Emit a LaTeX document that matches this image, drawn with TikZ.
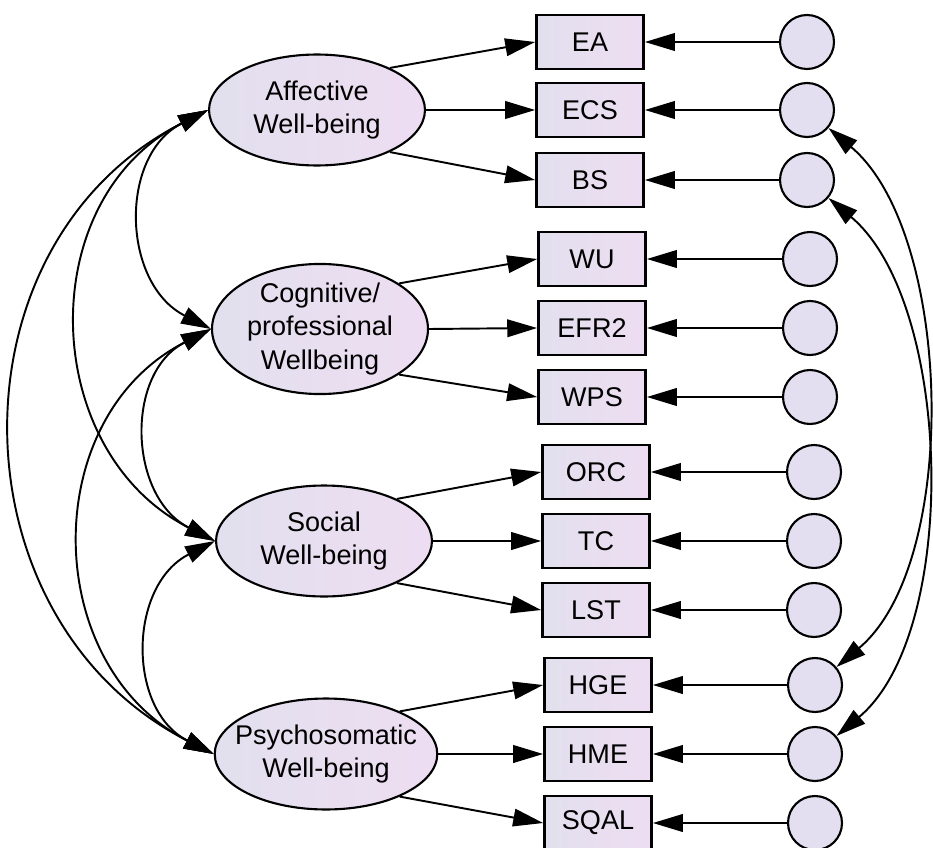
\documentclass[tikz,border=0pt]{standalone}
\usepackage{fontspec}
\setmainfont{Liberation Sans}
\usetikzlibrary{positioning,calc,arrows.meta,shapes.geometric}

\definecolor{fillL}{RGB}{226,224,238}
\definecolor{fillR}{RGB}{238,221,242}
\definecolor{errfill}{RGB}{227,223,240}

\begin{document}
\begin{tikzpicture}[x=0.02cm,y=-0.02cm,
	font=\fontsize{15.4}{19}\selectfont,
	latent/.style={ellipse,draw,line width=1.2pt,left color=fillL,right color=fillR,minimum width=4.32cm,minimum height=2.22cm,inner sep=0pt,align=center},
	obs/.style={rectangle,draw,line width=1.6pt,left color=fillL,right color=fillR,minimum width=2.14cm,minimum height=1.08cm,inner sep=0pt},
	err/.style={circle,draw,line width=1.2pt,fill=errfill,minimum size=1.08cm,inner sep=0pt},
	load/.style={line width=1.1pt,-{Triangle[length=17pt,width=10pt]}},
	cov/.style={line width=1.1pt,{Triangle[length=17pt,width=10pt]}-{Triangle[length=17pt,width=10pt]}},
	arc/.style={out=207,in=153,looseness=1.17}]
		\useasboundingbox (0,0) rectangle (933,848);
		% latent factors
		\node[latent] (aff) at (317,110) {Affective\\Well-being};
		\node[latent] (cog) at (320,329) {Cognitive/\\professional\\Wellbeing};
		\node[latent] (soc) at (324,541) {Social\\Well-being};
		\node[latent,inner xsep=-7pt] (psy) at (326,754) {Psychosomatic\\Well-being};
		% indicators
		\node[obs] (ea) at (590,42) {EA};
		\node[obs] (ecs) at (590,110) {ECS};
		\node[obs] (bs) at (590,180) {BS};
		\node[obs] (wu) at (592,259) {WU};
		\node[obs] (efr) at (592,328) {EFR2};
		\node[obs] (wps) at (592,397) {WPS};
		\node[obs] (orc) at (596,472) {ORC};
		\node[obs] (tc) at (596,541) {TC};
		\node[obs] (lst) at (596,610) {LST};
		\node[obs] (hge) at (598,685) {HGE};
		\node[obs] (hme) at (598,754) {HME};
		\node[obs] (sqal) at (598,823) {SQAL};
		% error terms
		\node[err] (e1) at (807,42) {};
		\node[err] (e2) at (807,110) {};
		\node[err] (e3) at (807,180) {};
		\node[err] (e4) at (810,259) {};
		\node[err] (e5) at (810,328) {};
		\node[err] (e6) at (810,397) {};
		\node[err] (e7) at (814,472) {};
		\node[err] (e8) at (814,541) {};
		\node[err] (e9) at (814,610) {};
		\node[err] (e10) at (815,685) {};
		\node[err] (e11) at (815,754) {};
		\node[err] (e12) at (815,823) {};
		% loadings
		\draw[load] (aff.30) -- (ea.west);
		\draw[load] (aff.east) -- (ecs.west);
		\draw[load] (aff.-30) -- (bs.west);
		\draw[load] (cog.30) -- (wu.west);
		\draw[load] (cog.east) -- (efr.west);
		\draw[load] (cog.-30) -- (wps.west);
		\draw[load] (soc.30) -- (orc.west);
		\draw[load] (soc.east) -- (tc.west);
		\draw[load] (soc.-30) -- (lst.west);
		\draw[load] (psy.30) -- (hge.west);
		\draw[load] (psy.east) -- (hme.west);
		\draw[load] (psy.-30) -- (sqal.west);
		% residuals
		\draw[load] (e1) -- (ea);
		\draw[load] (e2) -- (ecs);
		\draw[load] (e3) -- (bs);
		\draw[load] (e4) -- (wu);
		\draw[load] (e5) -- (efr);
		\draw[load] (e6) -- (wps);
		\draw[load] (e7) -- (orc);
		\draw[load] (e8) -- (tc);
		\draw[load] (e9) -- (lst);
		\draw[load] (e10) -- (hge);
		\draw[load] (e11) -- (hme);
		\draw[load] (e12) -- (sqal);
		% covariances
		\draw[cov] (aff.west) to[arc] (cog.west);
		\draw[cov] (aff.west) to[arc] (soc.west);
		\draw[cov] (aff.west) to[arc] (psy.west);
		\draw[cov] (cog.west) to[arc] (soc.west);
		\draw[cov] (cog.west) to[arc] (psy.west);
		\draw[cov] (soc.west) to[arc] (psy.west);
		\draw[cov] (e2) to[out=-40,in=40,looseness=0.77] (e10);
		\draw[cov] (e3) to[out=-40,in=40,looseness=0.77] (e11);
	\end{tikzpicture}
\end{document}
